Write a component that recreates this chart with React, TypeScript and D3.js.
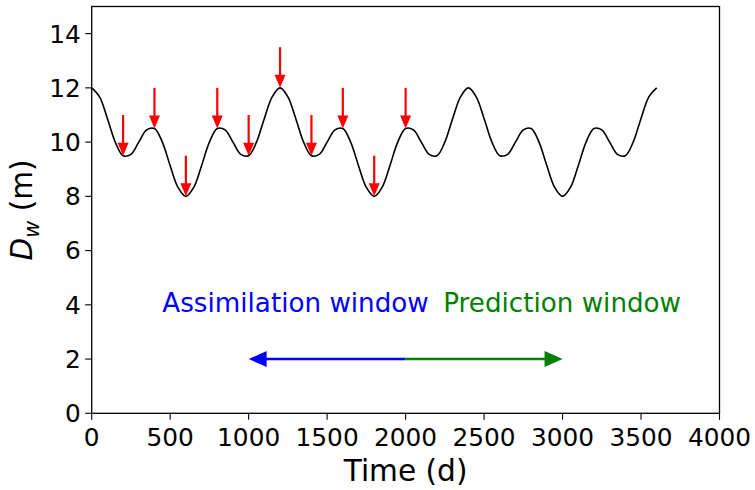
import React from "react";
import * as d3 from "d3";

// Water depth D_w (m) read every 50 days over one 1200-day cycle; the curve repeats 3 times (0..3600 d)
const cycleDays = [0, 50, 100, 150, 200, 250, 300, 350, 400, 450, 500, 550, 600, 650, 700, 750, 800, 850, 900, 950, 1000, 1050, 1100, 1150];
const cycleDepth = [12.0, 11.67, 10.87, 10.0, 9.5, 9.55, 10.0, 10.45, 10.5, 10.0, 9.13, 8.33, 8.0, 8.33, 9.13, 10.0, 10.5, 10.45, 10.0, 9.55, 9.5, 10.0, 10.87, 11.67];
const cycleCount = 3;
const cycleLength = 1200;

// Observation times (red arrows), depth at arrow tip
const obsDays = [200, 400, 600, 800, 1000, 1200, 1400, 1600, 1800, 2000];
const obsDepth = [9.5, 10.5, 8.0, 10.5, 9.5, 12.0, 9.5, 10.5, 8.0, 10.5];
const obsArrowLength = 1.5;

// Windows
const assimWindow = [1000, 2000];
const predWindow = [2000, 3000];
const windowLevel = 2;
const assimLabel = { text: "Assimilation window", x: 450, y: 3.75 };
const predLabel = { text: "Prediction window", x: 2240, y: 3.75 };

const xTicks = [0, 500, 1000, 1500, 2000, 2500, 3000, 3500, 4000];
const yTicks = [0, 2, 4, 6, 8, 10, 12, 14];

const W = 755;
const H = 490;
const M = { left: 91.7, right: 35.5, top: 6.5, bottom: 76.7 };

export default function App() {
  const x = d3.scaleLinear().domain([0, 4000]).range([M.left, W - M.right]);
  const y = d3.scaleLinear().domain([0, 15]).range([H - M.bottom, M.top]);

  const pts: [number, number][] = [];
  for (let c = 0; c < cycleCount; c++) {
    cycleDays.forEach((d, i) => pts.push([d + c * cycleLength, cycleDepth[i]]));
  }
  pts.push([cycleCount * cycleLength, cycleDepth[0]]);

  const line = d3
    .line<[number, number]>()
    .x((d) => x(d[0]))
    .y((d) => y(d[1]))
    .curve(d3.curveCatmullRom.alpha(0.5));

  const font = "'DejaVu Sans', sans-serif";
  const tickFs = 24.8;
  const textFs = 26.2;
  const labelFs = 29.6;
  const x0 = M.left;
  const y0 = H - M.bottom;

  const headLenV = 13;
  const headHalfV = 5.5;
  const headLenH = 18;
  const headHalfH = 8;

  return (
    <svg width={W} height={H} style={{ position: "absolute", left: 0, top: 0 }} fontFamily={font}>
      <rect width={W} height={H} fill="white" />
      {/* curve */}
      <path d={line(pts) || ""} fill="none" stroke="black" strokeWidth={1.6} />
      {/* observation arrows */}
      {obsDays.map((d, i) => {
        const px = x(d);
        const tip = y(obsDepth[i]);
        const top = y(obsDepth[i] + obsArrowLength);
        return (
          <g key={d}>
            <line x1={px} x2={px} y1={top} y2={tip - headLenV + 1} stroke="red" strokeWidth={2.2} />
            <path
              d={`M${px - headHalfV},${tip - headLenV} L${px + headHalfV},${tip - headLenV} L${px},${tip} Z`}
              fill="red"
            />
          </g>
        );
      })}
      {/* window arrows */}
      {(() => {
        const yy = y(windowLevel);
        const a0 = x(assimWindow[0]);
        const a1 = x(assimWindow[1]);
        const p0 = x(predWindow[0]);
        const p1 = x(predWindow[1]);
        return (
          <g>
            <line x1={a0 + headLenH - 1} x2={a1} y1={yy} y2={yy} stroke="blue" strokeWidth={2.6} />
            <path d={`M${a0},${yy} L${a0 + headLenH},${yy - headHalfH} L${a0 + headLenH},${yy + headHalfH} Z`} fill="blue" />
            <line x1={p0} x2={p1 - headLenH + 1} y1={yy} y2={yy} stroke="green" strokeWidth={2.6} />
            <path d={`M${p1},${yy} L${p1 - headLenH},${yy - headHalfH} L${p1 - headLenH},${yy + headHalfH} Z`} fill="green" />
          </g>
        );
      })()}
      <text x={x(assimLabel.x)} y={y(assimLabel.y)} fontSize={textFs} fill="blue">
        {assimLabel.text}
      </text>
      <text x={x(predLabel.x)} y={y(predLabel.y)} fontSize={textFs} fill="green">
        {predLabel.text}
      </text>
      {/* axes frame */}
      <rect
        x={x0}
        y={M.top}
        width={W - M.right - M.left}
        height={y0 - M.top}
        fill="none"
        stroke="black"
        strokeWidth={1.3}
      />
      {xTicks.map((t) => (
        <g key={t}>
          <line x1={x(t)} x2={x(t)} y1={y0} y2={y0 + 6.5} stroke="black" strokeWidth={1.1} />
          <text x={x(t)} y={y0 + 33} fontSize={tickFs} textAnchor="middle">
            {t}
          </text>
        </g>
      ))}
      {yTicks.map((t) => (
        <g key={t}>
          <line x1={x0} x2={x0 - 6.5} y1={y(t)} y2={y(t)} stroke="black" strokeWidth={1.1} />
          <text x={x0 - 11} y={y(t) + 8.9} fontSize={tickFs} textAnchor="end">
            {t}
          </text>
        </g>
      ))}
      <text x={(x0 + W - M.right) / 2} y={H - 9} fontSize={labelFs} textAnchor="middle">
        Time (d)
      </text>
      <text transform={`translate(32,${(M.top + y0) / 2}) rotate(-90)`} fontSize={labelFs} textAnchor="middle">
        <tspan fontStyle="italic">D</tspan>
        <tspan fontStyle="italic" fontSize={labelFs * 0.7} dy={7}>w</tspan>
        <tspan dy={-7}> (m)</tspan>
      </text>
    </svg>
  );
}
